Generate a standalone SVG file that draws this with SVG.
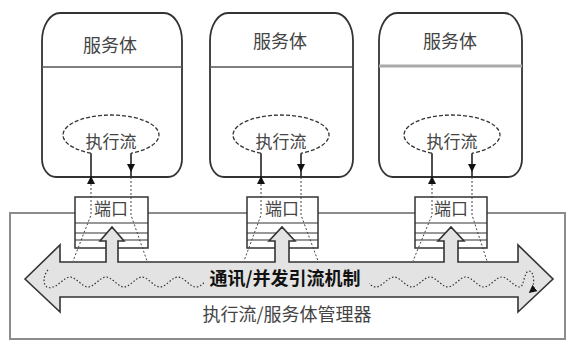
<svg xmlns="http://www.w3.org/2000/svg" xmlns:xlink="http://www.w3.org/1999/xlink" width="568" height="341" viewBox="0 0 568 341">
  <style>
    text { font-family: "Noto Sans CJK SC", "Noto Sans", sans-serif; fill: #444; text-anchor: middle; }
    .title { font-size: 18px; }
    .flow { font-size: 17px; }
    .port-label { font-size: 17px; }
    .body { fill: #fff; stroke: #333; stroke-width: 1.8; }
    .divider { stroke: #555; stroke-width: 1.6; }
    .loop { fill: none; stroke: #333; stroke-width: 1.3; stroke-dasharray: 4 2; }
    .leg { fill: none; stroke: #222; stroke-width: 1.6; }
    .trace { fill: none; stroke: #444; stroke-width: 1; stroke-dasharray: 2 2; }
    .port { fill: #fff; stroke: #333; stroke-width: 1.5; }
    .port-line { stroke: #333; stroke-width: 1.2; }
    .head { fill: #111; }
    .channel { fill: #e3e3e3; stroke: #333; stroke-width: 1.6; stroke-linejoin: miter; }
    .wave { fill: none; stroke: #333; stroke-width: 1.2; stroke-dasharray: 1.5 2; }
  </style>
  <defs>
    <path id="headUp" class="head" d="M0 0 L-4 8 L4 8 Z"/>
    <path id="headDown" class="head" d="M0 0 L-4 -8 L4 -8 Z"/>
    <marker id="waveEnd" viewBox="0 0 10 10" refX="8" refY="5" markerWidth="8" markerHeight="8" markerUnits="userSpaceOnUse" orient="auto">
      <path d="M0 0 L10 5 L0 10 Z" fill="#111"/>
    </marker>
  </defs>

  <!-- manager frame -->
  <g id="manager">
    <rect x="10" y="213" width="555" height="126" fill="#fff" stroke="#8c8c8c" stroke-width="2"/>
    <text x="287" y="321" class="title">执行流/服务体管理器</text>
  </g>

  <!-- service bodies -->
  <g id="body1">
    <path class="body" d="M60 13 H164 A18 28 0 0 1 182 41 V159 A14 18 0 0 1 168 177 H56 A14 18 0 0 1 42 159 V41 A18 28 0 0 1 60 13 Z"/>
    <line class="divider" x1="42" y1="67" x2="182" y2="67"/>
    <text x="110" y="52" class="title">服务体</text>
    <path class="loop" d="M91 153.2 A48 20 0 1 1 131 153.2"/>
    <text x="111" y="148" class="flow">执行流</text>
  </g>
  <g id="body2">
    <path class="body" d="M228 13 H335 A18 28 0 0 1 353 41 V159 A14 18 0 0 1 339 177 H224 A14 18 0 0 1 210 159 V41 A18 28 0 0 1 228 13 Z"/>
    <line class="divider" x1="210" y1="67" x2="353" y2="67"/>
    <text x="280" y="48" class="title">服务体</text>
    <path class="loop" d="M261 153.2 A48 20 0 1 1 301 153.2"/>
    <text x="281" y="148" class="flow">执行流</text>
  </g>
  <g id="body3">
    <path class="body" d="M397 13 H504 A18 28 0 0 1 522 41 V159 A14 18 0 0 1 508 177 H393 A14 18 0 0 1 379 159 V41 A18 28 0 0 1 397 13 Z"/>
    <line x1="379" y1="66" x2="522" y2="66" stroke="#aaa" stroke-width="3"/>
    <text x="450" y="48" class="title">服务体</text>
    <path class="loop" d="M432 153.2 A48 20 0 1 1 472 153.2"/>
    <text x="452" y="148" class="flow">执行流</text>
  </g>

  <!-- ports -->
  <g id="port1">
    <rect class="port" x="75" y="197" width="73" height="51"/>
    <line class="port-line" x1="75" y1="223" x2="148" y2="223" stroke-width="2.2"/>
    <line class="port-line" x1="75" y1="233" x2="148" y2="233"/>
    <line class="port-line" x1="75" y1="240" x2="148" y2="240"/>
    <text x="111" y="215" class="port-label">端口</text>
  </g>
  <g id="port2">
    <rect class="port" x="247" y="197" width="71" height="51"/>
    <line class="port-line" x1="247" y1="223" x2="318" y2="223" stroke-width="2.2"/>
    <line class="port-line" x1="247" y1="233" x2="318" y2="233"/>
    <line class="port-line" x1="247" y1="240" x2="318" y2="240"/>
    <text x="282" y="215" class="port-label">端口</text>
  </g>
  <g id="port3">
    <rect class="port" x="415" y="197" width="72" height="51"/>
    <line class="port-line" x1="415" y1="223" x2="487" y2="223" stroke-width="2.2"/>
    <line class="port-line" x1="415" y1="233" x2="487" y2="233"/>
    <line class="port-line" x1="415" y1="240" x2="487" y2="240"/>
    <text x="451" y="215" class="port-label">端口</text>
  </g>

  <!-- communication / dispatch channel with feeds into each port -->
  <g id="channel">
    <path class="channel" d="M25 279 L60 245 V262 H106 V241 H100 L112 227 L124 241 H118 V262 H275 V241 H269 L282 227 L295 241 H289 V262 H444 V241 H438 L451 227 L464 241 H458 V262 H518 V245 L553 279 L518 312 V297 H60 V312 Z"/>
  </g>

  <!-- connectors -->
  <g id="connectors">
    <path class="wave" d="M48 270 C41 278 44 291 52 287 C58 287 64 277 70 277 S82 287 88 287 S100 277 106 277 S118 287 124 287 S136 277 142 277 S154 287 160 287 S172 277 178 277 S190 287 196 287 S208 277 214 277 S226 287 232 287 S244 277 250 277 S262 287 268 287 S280 277 286 277 S298 287 304 287 S316 277 322 277 S334 287 340 287 S352 277 358 277 S370 287 376 287 S388 277 394 277 S406 287 412 287 S424 277 430 277 S442 287 448 287 S460 277 466 277 S478 287 484 287 S496 277 502 277 S514 287 520 287 C524 287 524 271 529 271 C535 271 535 288 530 292" marker-end="url(#waveEnd)"/>

    <!-- service body 1 -->
    <path class="leg" d="M91 178 V153.2"/>
    <path class="leg" d="M131 153.2 V177"/>
    <use xlink:href="#headUp" x="91" y="176"/>
    <use xlink:href="#headDown" x="131" y="172"/>
    <path class="trace" d="M91 184 V215 L73 261"/>
    <path class="trace" d="M131 177 V215 L147 261"/>

    <!-- service body 2 -->
    <path class="leg" d="M261 178 V153.2"/>
    <path class="leg" d="M301 153.2 V177"/>
    <use xlink:href="#headUp" x="261" y="176"/>
    <use xlink:href="#headDown" x="301" y="172"/>
    <path class="trace" d="M261 184 V215 L244 261"/>
    <path class="trace" d="M301 177 V215 L318 261"/>

    <!-- service body 3 -->
    <path class="leg" d="M432 178 V153.2"/>
    <path class="leg" d="M472 153.2 V177"/>
    <use xlink:href="#headUp" x="432" y="176"/>
    <use xlink:href="#headDown" x="472" y="172"/>
    <path class="trace" d="M432 184 V215 L413 261"/>
    <path class="trace" d="M472 177 V215 L487 261"/>
  </g>

  <!-- channel caption sits over the wave -->
  <g id="channel-label">
    <rect x="204" y="267" width="165" height="24" fill="#e3e3e3"/>
    <text x="285" y="285" font-size="18" font-weight="bold" style="fill:#111">通讯/并发引流机制</text>
  </g>
</svg>
